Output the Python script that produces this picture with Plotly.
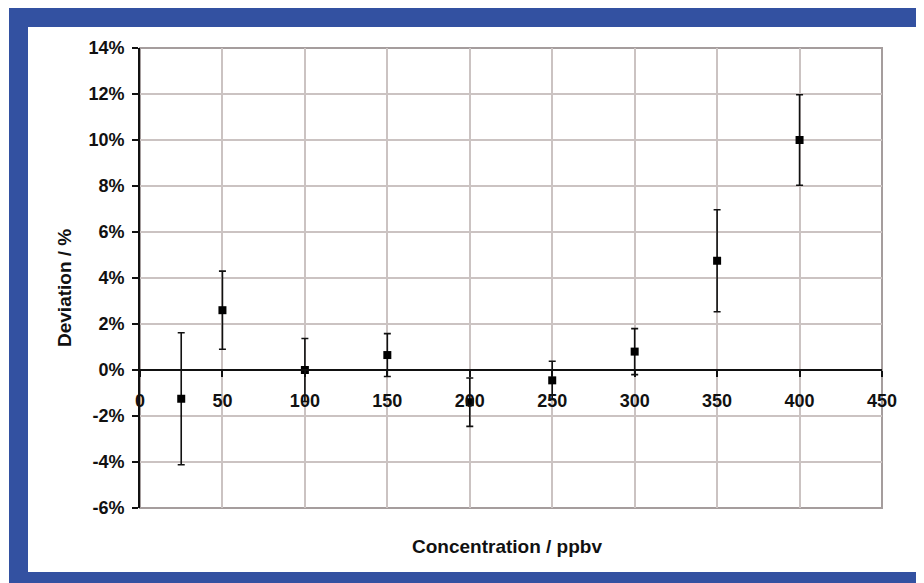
import plotly.graph_objects as go

# ---- data ----
concentration = [25, 50, 100, 150, 200, 250, 300, 350, 400]
deviation_pct = [-1.25, 2.6, 0.0, 0.65, -1.4, -0.45, 0.8, 4.75, 10.0]
error_pct = [2.87, 1.7, 1.37, 0.93, 1.05, 0.83, 1.0, 2.22, 1.97]
x_ticks = [0, 50, 100, 150, 200, 250, 300, 350, 400, 450]
y_ticks = [-6, -4, -2, 0, 2, 4, 6, 8, 10, 12, 14]

# page body has an 8px margin; figure drawn from (8, 8) of the window
OFF = 8
W, H = 924 - OFF, 583 - OFF
ML, MR, MT, MB = 140 - OFF, 42, 48 - OFF, 75
PW, PH = W - ML - MR, H - MT - MB

def px(xp):  # window pixel x -> paper
    return (xp - OFF - ML) / PW

def py(yp):  # window pixel y -> paper
    return (H - MB - (yp - OFF)) / PH

FONT = "Liberation Sans, Arial, sans-serif"
BLUE = "#3351a1"
GRID = "#cbc3c2"
FRAME = "#a59d9d"

fig = go.Figure()
fig.add_trace(go.Scatter(
    x=concentration, y=deviation_pct, mode="markers",
    marker=dict(symbol="square", size=8, color="#000000"),
    error_y=dict(type="data", array=error_pct, visible=True,
                 color="#111111", thickness=1.6, width=3.5),
    showlegend=False, cliponaxis=False,
))

fig.update_layout(
    width=W, height=H,
    margin=dict(l=ML, r=MR, t=MT, b=MB),
    paper_bgcolor=BLUE, plot_bgcolor="white",
    font=dict(family=FONT, color="#111111"),
    xaxis=dict(
        range=[0, 450], tickvals=x_ticks, ticktext=[str(v) for v in x_ticks],
        anchor="free", position=py(370),
        showline=True, linecolor="#111111", linewidth=1.6,
        ticks="outside", ticklen=6, tickwidth=1.6, tickcolor="#111111",
        tickfont=dict(family=FONT, size=18, color="#111111", weight="bold"),
        ticklabelstandoff=9,
        showgrid=True, gridcolor=GRID, gridwidth=1.5, zeroline=False,
    ),
    yaxis=dict(
        range=[-6, 14], tickvals=y_ticks, ticktext=[f"{v}%" for v in y_ticks],
        showline=True, linecolor="#111111", linewidth=1.6,
        ticks="outside", ticklen=6, tickwidth=1.6, tickcolor="#111111",
        tickfont=dict(family=FONT, size=18, color="#111111", weight="bold"),
        ticklabelstandoff=4,
        showgrid=True, gridcolor=GRID, gridwidth=1.5, zeroline=False,
    ),
    shapes=[
        dict(type="rect", xref="paper", yref="paper", layer="below",
             x0=px(0), x1=px(9), y0=py(600), y1=py(0),
             fillcolor="white", line=dict(width=0)),
        dict(type="rect", xref="paper", yref="paper", layer="below",
             x0=px(28), x1=px(921), y0=py(572), y1=py(27),
             fillcolor="white", line=dict(width=0)),
        dict(type="rect", xref="paper", yref="paper", layer="below",
             x0=0, x1=1, y0=0, y1=1,
             fillcolor="rgba(0,0,0,0)", line=dict(color=FRAME, width=2)),
    ],
    annotations=[
        dict(text="<b>Concentration / ppbv</b>", xref="paper", yref="paper",
             x=px(507), y=py(546), xanchor="center", yanchor="middle",
             showarrow=False, font=dict(family=FONT, size=19, color="#111111")),
        dict(text="<b>Deviation / %</b>", xref="paper", yref="paper",
             x=px(64), y=py(288), xanchor="center", yanchor="middle",
             textangle=-90, showarrow=False,
             font=dict(family=FONT, size=19, color="#111111")),
    ],
)

fig.write_html("out.html")
